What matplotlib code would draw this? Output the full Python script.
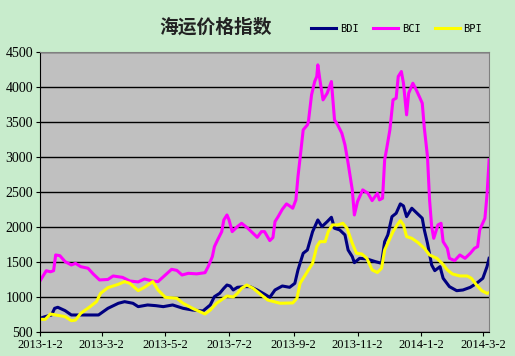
import numpy as np
import pandas as pd
import matplotlib
matplotlib.use('Agg')
import matplotlib.pyplot as plt

start = pd.Timestamp('2013-01-02')

# days since 2013-01-02
bdi_day = [0, 5, 11, 14, 17, 24, 30, 39, 49, 56, 65, 75, 81, 89, 94, 103, 111, 118, 127, 137,
           146, 156, 163, 167, 172, 176, 179, 182, 185, 189, 196, 201, 208, 215, 220, 225, 232,
           239, 244, 247, 252, 256, 261, 266, 270, 275, 279, 282, 287, 292, 295, 299, 301, 306,
           313, 321, 327, 330, 333, 337, 341, 345, 348, 351, 356, 361, 366, 368, 371, 375, 378,
           383, 386, 392, 399, 405, 412, 418, 424, 428, 430]
bdi = [695, 720, 743, 838, 853, 805, 743, 743, 743, 743, 838, 910, 933, 910, 862, 886, 876, 862,
       886, 838, 814, 800, 886, 1005, 1052, 1124, 1171, 1157, 1100, 1138, 1148, 1148, 1100, 1040,
       995, 1100, 1157, 1138, 1195, 1386, 1624, 1671, 1933, 2100, 2005, 2076, 2138, 1981, 1957,
       1886, 1671, 1576, 1490, 1552, 1543, 1505, 1481, 1790, 1886, 2147, 2195, 2329, 2300, 2147,
       2267, 2195, 2124, 1957, 1767, 1457, 1376, 1433, 1267, 1148, 1090, 1100, 1138, 1195, 1267,
       1433, 1552]

bci_day = [0, 6, 10, 13, 15, 19, 24, 30, 34, 39, 46, 51, 57, 65, 70, 79, 86, 94, 100, 108, 113,
           120, 126, 131, 136, 142, 150, 158, 161, 165, 167, 170, 174, 176, 179, 181, 184, 189,
           193, 199, 208, 212, 215, 220, 223, 225, 228, 232, 236, 239, 242, 245, 247, 249, 252,
           256, 257, 260, 263, 265, 266, 268, 271, 275, 279, 282, 285, 289, 292, 295, 299, 301,
           304, 309, 314, 318, 323, 325, 328, 330, 332, 335, 338, 341, 343, 346, 348, 351, 353,
           357, 361, 366, 368, 371, 373, 375, 377, 381, 384, 386, 390, 392, 397, 402, 407, 412,
           416, 419, 421, 426, 428, 430]
bci = [1230, 1375, 1360, 1375, 1600, 1590, 1505, 1457, 1480, 1433, 1410, 1328, 1243, 1250, 1300,
       1280, 1228, 1215, 1257, 1228, 1220, 1314, 1395, 1380, 1314, 1338, 1330, 1347, 1433, 1576,
       1719, 1814, 1933, 2100, 2171, 2100, 1933, 2005, 2052, 1981, 1852, 1933, 1933, 1805, 1848,
       2076, 2147, 2252, 2329, 2300, 2267, 2386, 2719, 2981, 3386, 3457, 3505, 3886, 4076, 4148,
       4314, 4100, 3814, 3910, 4076, 3529, 3457, 3338, 3171, 2910, 2529, 2171, 2362, 2529, 2481,
       2376, 2481, 2386, 2410, 2957, 3124, 3386, 3814, 3838, 4148, 4219, 4052, 3600, 3910, 4052,
       3933, 3767, 3410, 3005, 2386, 2005, 1838, 2029, 2052, 1790, 1695, 1552, 1519, 1600, 1552,
       1624, 1695, 1719, 1957, 2124, 2457, 2957]

bpi_day = [0, 5, 10, 15, 24, 30, 34, 39, 48, 54, 58, 65, 75, 81, 86, 94, 100, 108, 113, 120,
           131, 137, 146, 158, 163, 169, 179, 185, 189, 193, 198, 204, 211, 218, 230, 242, 246,
           249, 254, 258, 261, 265, 268, 273, 276, 280, 285, 290, 294, 299, 303, 308, 313, 318,
           323, 327, 330, 333, 338, 342, 345, 348, 351, 356, 362, 368, 373, 380, 385, 390, 395,
           402, 409, 413, 418, 423, 428, 430]
bpi = [681, 681, 757, 743, 720, 662, 670, 767, 862, 933, 1052, 1133, 1181, 1219, 1195, 1090, 1138,
       1219, 1100, 995, 981, 910, 838, 757, 814, 910, 1014, 1000, 1052, 1124, 1171, 1124, 1040,
       957, 910, 915, 981, 1195, 1314, 1410, 1481, 1719, 1790, 1790, 1933, 2029, 2029, 2052, 1981,
       1767, 1624, 1614, 1552, 1386, 1350, 1410, 1671, 1767, 1933, 2029, 2090, 2029, 1862, 1838,
       1776, 1695, 1600, 1552, 1481, 1386, 1328, 1300, 1300, 1267, 1171, 1090, 1052, 1062]

tick_dates = ['2013-01-02', '2013-03-02', '2013-05-02', '2013-07-02',
              '2013-09-02', '2013-11-02', '2014-01-02', '2014-03-02']
tick_labels = ['2013-1-2', '2013-3-2', '2013-5-2', '2013-7-2',
               '2013-9-2', '2013-11-2', '2014-1-2', '2014-3-2']

def to_dates(days):
    return start + pd.to_timedelta(days, unit='D')

fig = plt.figure(figsize=(5.15, 3.56), dpi=100, facecolor='#C8ECCC')
ax = fig.add_axes([0.0777, 0.0674, 0.872, 0.787])
ax.set_facecolor('#C0C0C0')

ax.plot(to_dates(bdi_day), bdi, color='#000080', lw=2.2, label='BDI')
ax.plot(to_dates(bci_day), bci, color='#FF00FF', lw=2.2, label='BCI')
ax.plot(to_dates(bpi_day), bpi, color='#FFFF00', lw=2.2, label='BPI')

ax.set_ylim(500, 4500)
ax.set_yticks(np.arange(500, 4501, 500))
ax.set_xlim(start, start + pd.Timedelta(days=430))
ax.set_xticks(pd.to_datetime(tick_dates))
ax.set_xticklabels(tick_labels)
ax.grid(axis='y', color='black', lw=1)
ax.set_axisbelow(True)

for lab in ax.get_yticklabels():
    lab.set_fontfamily('Liberation Serif')
    lab.set_fontsize(10)
for lab in ax.get_xticklabels():
    lab.set_fontfamily('Liberation Serif')
    lab.set_fontsize(9)
ax.tick_params(axis='both', direction='out', length=3, color='black', pad=2)

ax.spines['left'].set_color('black')
ax.spines['bottom'].set_color('black')
ax.spines['top'].set_color('#808080')
ax.spines['right'].set_color('#808080')

fig.text(0.418, 0.925, '海运价格指数', fontsize=13.5, fontweight='bold',
         family=['Noto Sans CJK SC', 'DejaVu Sans'], ha='center', va='center', color='#222222')

leg = ax.legend(loc='lower right', bbox_to_anchor=(0.985, 1.065), ncol=3, frameon=False,
                handlelength=2.4, columnspacing=1.4, handletextpad=0.35, borderaxespad=0,
                borderpad=0, prop={'family': 'DejaVu Sans Mono', 'size': 7.5})

fig.savefig('out.png', dpi=100, facecolor=fig.get_facecolor())
